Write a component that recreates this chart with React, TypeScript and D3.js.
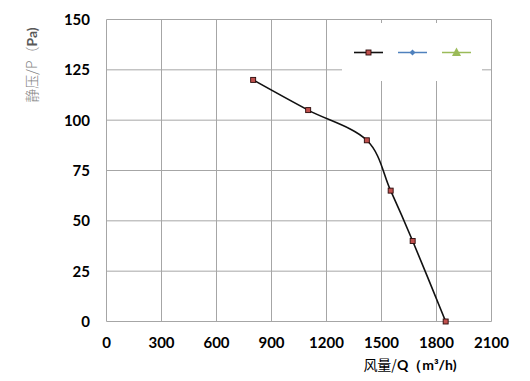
import React from "react";
import * as d3 from "d3";

const flow = [800, 1100, 1420, 1550, 1670, 1850];
const pressure = [120, 105, 90, 65, 40, 0];
const xTicks = [0, 300, 600, 900, 1200, 1500, 1800, 2100];
const yTicks = [0, 25, 50, 75, 100, 125, 150];
const legendColors = ["#C0504D", "#4F81BD", "#9BBB59"];

export default function App() {
  const W = 530, H = 381;
  const x = d3.scaleLinear().domain([0, 2100]).range([106.5, 491.5]);
  const y = d3.scaleLinear().domain([0, 150]).range([321.5, 19.5]);
  const pts: [number, number][] = flow.map((f, i) => [x(f), y(pressure[i])]);
  const line = d3.line().curve(d3.curveCardinal.tension(0))(pts) || "";
  const font = "Lato, 'Open Sans', sans-serif";
  const lx = [354, 398, 442];
  return (
    <svg width={W} height={H} style={{ position: "absolute", left: 0, top: 0, background: "#fff" }}>
      <rect width={W} height={H} fill="#fff" />
      {yTicks.map((t) => (
        <line key={"gy" + t} x1={x(0)} x2={x(2100)} y1={y(t)} y2={y(t)} stroke="#a6a6a6" strokeWidth={1} />
      ))}
      {xTicks.map((t) => (
        <line key={"gx" + t} x1={x(t)} x2={x(t)} y1={y(0)} y2={y(150)} stroke="#a6a6a6" strokeWidth={1} />
      ))}
      <rect x={342} y={23} width={140} height={58} fill="#fff" />
      {yTicks.map((t) => (
        <text key={"ty" + t} x={90} y={y(t)} dy="0.36em" textAnchor="end" fontFamily={font} fontWeight="bold" fontSize={15} fill="#000">{t}</text>
      ))}
      {xTicks.map((t) => (
        <text key={"tx" + t} x={x(t)} y={343} dy="0.36em" textAnchor="middle" fontFamily={font} fontWeight="bold" fontSize={15} fill="#000">{t}</text>
      ))}
      <path d={line} fill="none" stroke="#111" strokeWidth={1.6} />
      {pts.map((p, i) => (
        <rect key={"m" + i} x={p[0] - 2.5} y={p[1] - 2.5} width={5} height={5} fill="#C0504D" stroke="#2a0a0a" strokeWidth={0.9} />
      ))}
      {/* legend */}
      <line x1={lx[0]} x2={lx[0] + 29} y1={52.5} y2={52.5} stroke="#111" strokeWidth={1.6} />
      <rect x={lx[0] + 14.5 - 2.5} y={50} width={5} height={5} fill={legendColors[0]} stroke="#2a0a0a" strokeWidth={0.9} />
      <line x1={lx[1]} x2={lx[1] + 29} y1={52.5} y2={52.5} stroke={legendColors[1]} strokeWidth={1.5} />
      <path d={`M${lx[1] + 14.5},${49.5} L${lx[1] + 17.5},${52.5} L${lx[1] + 14.5},${55.5} L${lx[1] + 11.5},${52.5}Z`} fill={legendColors[1]} />
      <line x1={lx[2]} x2={lx[2] + 29} y1={52.5} y2={52.5} stroke={legendColors[2]} strokeWidth={1.5} />
      <path d={`M${lx[2] + 14.5},${47.5} L${lx[2] + 19},${56} L${lx[2] + 10},${56}Z`} fill={legendColors[2]} />
      <text transform="translate(37,65) rotate(-90)" textAnchor="middle" fontSize={14} fill="#7f7f7f" fontFamily="'Noto Sans CJK SC', sans-serif">
        <tspan fontWeight="300">静压/P（</tspan><tspan fontWeight="bold" fontFamily={font} fill="#595959">Pa)</tspan>
      </text>
      <text x={410} y={370} textAnchor="middle" fontSize={14} fill="#000" fontFamily="'Noto Sans CJK SC', sans-serif">
        <tspan>风量/</tspan><tspan fontWeight="bold" fontFamily={font}>Q（m³/h)</tspan>
      </text>
    </svg>
  );
}
